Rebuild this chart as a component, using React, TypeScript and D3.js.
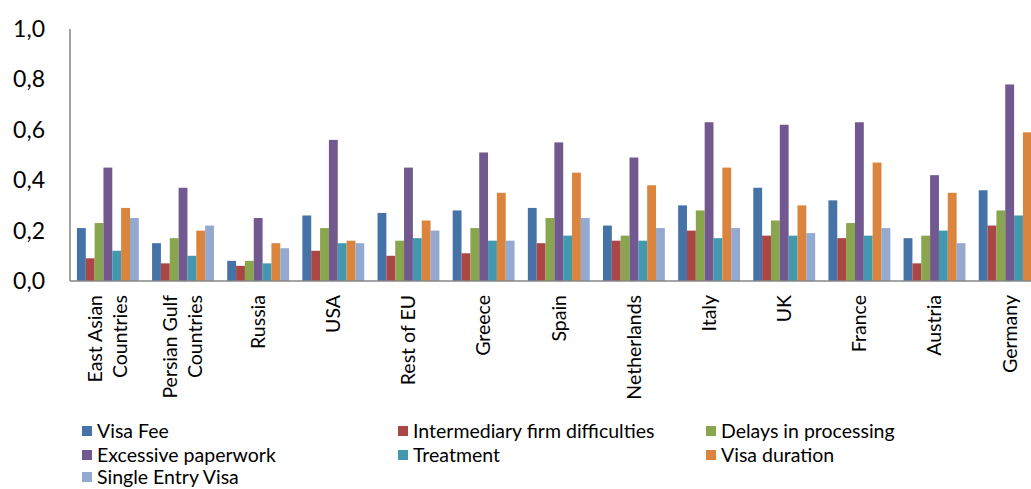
import * as d3 from 'd3'

const categories = [
  'East Asian Countries',
  'Persian Gulf Countries',
  'Russia',
  'USA',
  'Rest of EU',
  'Greece',
  'Spain',
  'Netherlands',
  'Italy',
  'UK',
  'France',
  'Austria',
  'Germany',
]

// label line breaks as in the original axis
const labelLines = [
  ['East Asian', 'Countries'],
  ['Persian Gulf', 'Countries'],
  ['Russia'],
  ['USA'],
  ['Rest of EU'],
  ['Greece'],
  ['Spain'],
  ['Netherlands'],
  ['Italy'],
  ['UK'],
  ['France'],
  ['Austria'],
  ['Germany'],
]

const seriesNames = [
  'Visa Fee',
  'Intermediary firm difficulties',
  'Delays in processing',
  'Excessive paperwork',
  'Treatment',
  'Visa duration',
  'Single Entry Visa',
]

const visaFee = [0.21, 0.15, 0.08, 0.26, 0.27, 0.28, 0.29, 0.22, 0.3, 0.37, 0.32, 0.17, 0.36]
const intermediary = [0.09, 0.07, 0.06, 0.12, 0.1, 0.11, 0.15, 0.16, 0.2, 0.18, 0.17, 0.07, 0.22]
const delays = [0.23, 0.17, 0.08, 0.21, 0.16, 0.21, 0.25, 0.18, 0.28, 0.24, 0.23, 0.18, 0.28]
const paperwork = [0.45, 0.37, 0.25, 0.56, 0.45, 0.51, 0.55, 0.49, 0.63, 0.62, 0.63, 0.42, 0.78]
const treatment = [0.12, 0.1, 0.07, 0.15, 0.17, 0.16, 0.18, 0.16, 0.17, 0.18, 0.18, 0.2, 0.26]
const visaDuration = [0.29, 0.2, 0.15, 0.16, 0.24, 0.35, 0.43, 0.38, 0.45, 0.3, 0.47, 0.35, 0.59]
const singleEntry = [0.25, 0.22, 0.13, 0.15, 0.2, 0.16, 0.25, 0.21, 0.21, 0.19, 0.21, 0.15, 0.25]

const yTicks = [0, 0.2, 0.4, 0.6, 0.8, 1.0]

const colors = ['#4572A7', '#AA4643', '#89A54E', '#71588F', '#4198AF', '#DB843D', '#93A9CF']

const seriesValues = [visaFee, intermediary, delays, paperwork, treatment, visaDuration, singleEntry]

export default function App() {
  const width = 1031
  const height = 489
  const left = 70.3
  const step = 75.15
  const baseY = 281
  const font = 'Lato, "Open Sans", sans-serif'

  const x = d3
    .scaleBand()
    .domain(categories)
    .range([left, left + step * categories.length])
    .padding(0)

  const xs = d3
    .scaleBand()
    .domain(seriesNames)
    .range([0, x.bandwidth()])
    .paddingInner(0)
    .paddingOuter(0.75)

  const y = d3.scaleLinear().domain([0, 1]).range([baseY, 29])

  const legendCols = [82, 398, 706]
  const legendRows = [431, 455, 477]

  return (
    <svg
      width={width}
      height={height}
      style={{ position: 'absolute', left: 0, top: 0, background: '#fff' }}
    >
      {/* bars */}
      {categories.map((c, ci) => (
        <g key={c} transform={`translate(${x(c)},0)`}>
          {seriesNames.map((s, si) => {
            const v = seriesValues[si][ci]
            return (
              <rect
                key={s}
                x={xs(s)}
                y={y(v)}
                width={xs.bandwidth()}
                height={baseY - y(v)}
                fill={colors[si]}
              />
            )
          })}
        </g>
      ))}

      {/* axes */}
      <line x1={70} x2={70} y1={29} y2={baseY} stroke="#868686" strokeWidth={1.5} />
      <line x1={70} x2={width} y1={baseY} y2={baseY} stroke="#868686" strokeWidth={1.5} />

      {yTicks.map((t) => (
        <text
          key={t}
          x={45}
          y={y(t)}
          dy="0.35em"
          textAnchor="end"
          fontFamily={font}
          fontSize={23}
          fill="#000"
        >
          {t.toFixed(1).replace('.', ',')}
        </text>
      ))}

      {categories.map((c, ci) => {
        const lines = labelLines[ci]
        const cx = (x(c) as number) + x.bandwidth() / 2
        return (
          <g key={c} transform={`translate(${cx},295) rotate(-90)`}>
            {lines.map((l, li) => (
              <text
                key={l}
                x={0}
                y={(li - (lines.length - 1) / 2) * 25}
                dy="0.35em"
                textAnchor="end"
                fontFamily={font}
                fontSize={19.5}
                fill="#000"
              >
                {l}
              </text>
            ))}
          </g>
        )
      })}

      {/* legend */}
      {seriesNames.map((s, i) => {
        const lx = legendCols[i % 3]
        const ly = legendRows[Math.floor(i / 3)]
        return (
          <g key={s} transform={`translate(${lx},${ly})`}>
            <rect x={0} y={-5} width={10} height={10} fill={colors[i]} />
            <text x={15} y={0} dy="0.35em" fontFamily={font} fontSize={19.5} fill="#000">
              {s}
            </text>
          </g>
        )
      })}
    </svg>
  )
}
